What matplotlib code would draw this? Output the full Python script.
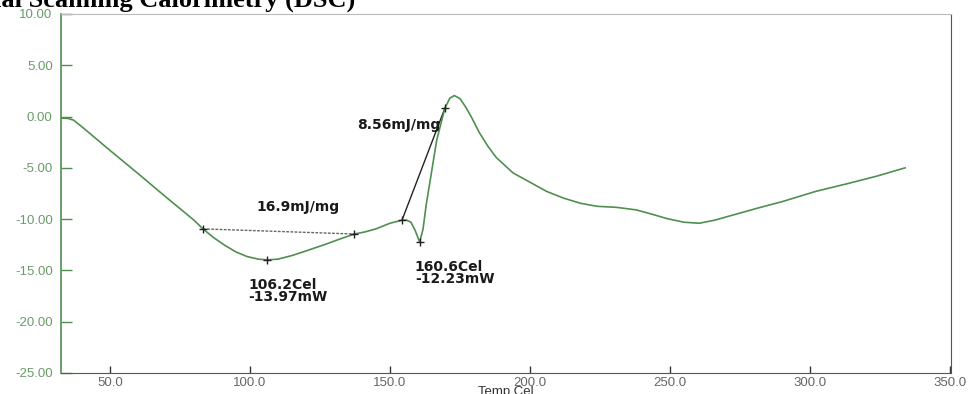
import matplotlib
matplotlib.use("Agg")
import matplotlib.pyplot as plt

# ---- data ----
temp = [32.5, 35.0, 37.0, 40.0, 50.0, 60.0, 70.0, 80.0, 83.2, 87.0, 91.0, 95.0, 99.0,
        103.0, 106.2, 110.0, 115.0, 120.0, 127.0, 132.0, 137.3, 141.0, 145.0, 150.0,
        154.3, 156.0, 157.5, 159.0, 160.6, 161.8, 163.0, 164.5, 166.7, 169.6, 171.4,
        173.0, 175.0, 177.0, 179.0, 182.0, 185.0, 188.0, 194.0, 200.0, 206.0, 212.0,
        218.0, 224.0, 231.0, 238.0, 244.0, 249.0, 255.0, 260.5, 266.0, 272.5, 281.0,
        290.0, 302.0, 314.0, 324.0, 334.0]
heat_flow = [-0.15, -0.18, -0.35, -1.0, -3.3, -5.55, -7.85, -10.1, -10.95, -11.8, -12.55,
             -13.2, -13.65, -13.9, -13.97, -13.9, -13.55, -13.1, -12.45, -11.95, -11.45,
             -11.25, -10.95, -10.4, -10.1, -10.1, -10.3, -11.1, -12.23, -11.0, -8.5, -6.0,
             -2.3, 0.8, 1.8, 2.05, 1.75, 0.95, 0.0, -1.6, -2.9, -4.0, -5.5, -6.4, -7.3,
             -7.95, -8.45, -8.75, -8.85, -9.1, -9.55, -9.95, -10.3, -10.4, -10.1, -9.6,
             -8.95, -8.3, -7.3, -6.5, -5.8, -5.0]

marker_x = [83.2, 106.2, 137.3, 154.3, 160.6, 169.6]
marker_y = [-10.95, -13.97, -11.45, -10.1, -12.23, 0.8]

baseline1_x = [83.2, 137.3]
baseline1_y = [-10.95, -11.45]
baseline2_x = [154.3, 169.6]
baseline2_y = [-10.1, 0.8]

xticks = [50.0, 100.0, 150.0, 200.0, 250.0, 300.0, 350.0]
yticks = [-25.0, -20.0, -15.0, -10.0, -5.0, 0.0, 5.0, 10.0]

labels = ["16.9mJ/mg", "106.2Cel\n-13.97mW", "160.6Cel\n-12.23mW", "8.56mJ/mg"]
label_x = [102.4, 99.4, 158.9, 138.1]
label_y = [-8.78, -15.75, -13.95, -0.82]

# ---- figure ----
fig = plt.figure(figsize=(9.69, 3.94), dpi=100)
ax = fig.add_axes([61 / 969, 21 / 394, 890 / 969, 359 / 394])

green = "#4f8f4f"
ax.plot(temp, heat_flow, color=green, lw=1.2, zorder=3)
ax.plot(baseline1_x, baseline1_y, color="#666666", lw=1.0, ls=(0, (2, 1)), zorder=2)
ax.plot(baseline2_x, baseline2_y, color="#222222", lw=1.0, zorder=2)
ax.plot(marker_x, marker_y, ls="none", marker="+", ms=6, mew=1.0, color="#222222", zorder=4)

for t, x, y in zip(labels, label_x, label_y):
    ax.text(x, y, t, fontsize=10, fontweight="bold", family="DejaVu Sans",
            color="#1a1a1a", ha="left", va="top" if "\n" in t else "center",
            linespacing=0.85)

ax.set_xlim(32.5, 350.4)
ax.set_ylim(-25, 10)
ax.set_xticks(xticks)
ax.set_xticklabels([f"{v:.1f}" for v in xticks])
ax.set_yticks(yticks)
ax.set_yticklabels([f"{v:.2f}" for v in yticks])

ax.tick_params(axis="y", direction="in", length=8, width=1.0, color=green,
               labelcolor="#6a9a6a", labelsize=9.5, pad=6)
ax.tick_params(axis="x", direction="in", length=5, width=1.0, color="#333333",
               labelcolor="#666666", labelsize=9.5, pad=3)
for lab in ax.get_xticklabels() + ax.get_yticklabels():
    lab.set_family("Liberation Sans")

ax.spines["left"].set_color(green)
ax.spines["left"].set_linewidth(1.2)
ax.spines["bottom"].set_color("#555555")
ax.spines["right"].set_color("#555555")
ax.spines["top"].set_color("#bbbbbb")

fig.text(506 / 969, 1 - 386 / 394, "Temp Cel", ha="center", va="top",
         fontsize=9.5, color="#333333", family="Liberation Sans")

fig.text(355 / 969, 1 - 7 / 394, "Differential Scanning Calorimetry (DSC)",
         ha="right", va="baseline", fontsize=19, fontweight="bold",
         family="Liberation Serif", color="black")

fig.savefig("out.png", dpi=100)
